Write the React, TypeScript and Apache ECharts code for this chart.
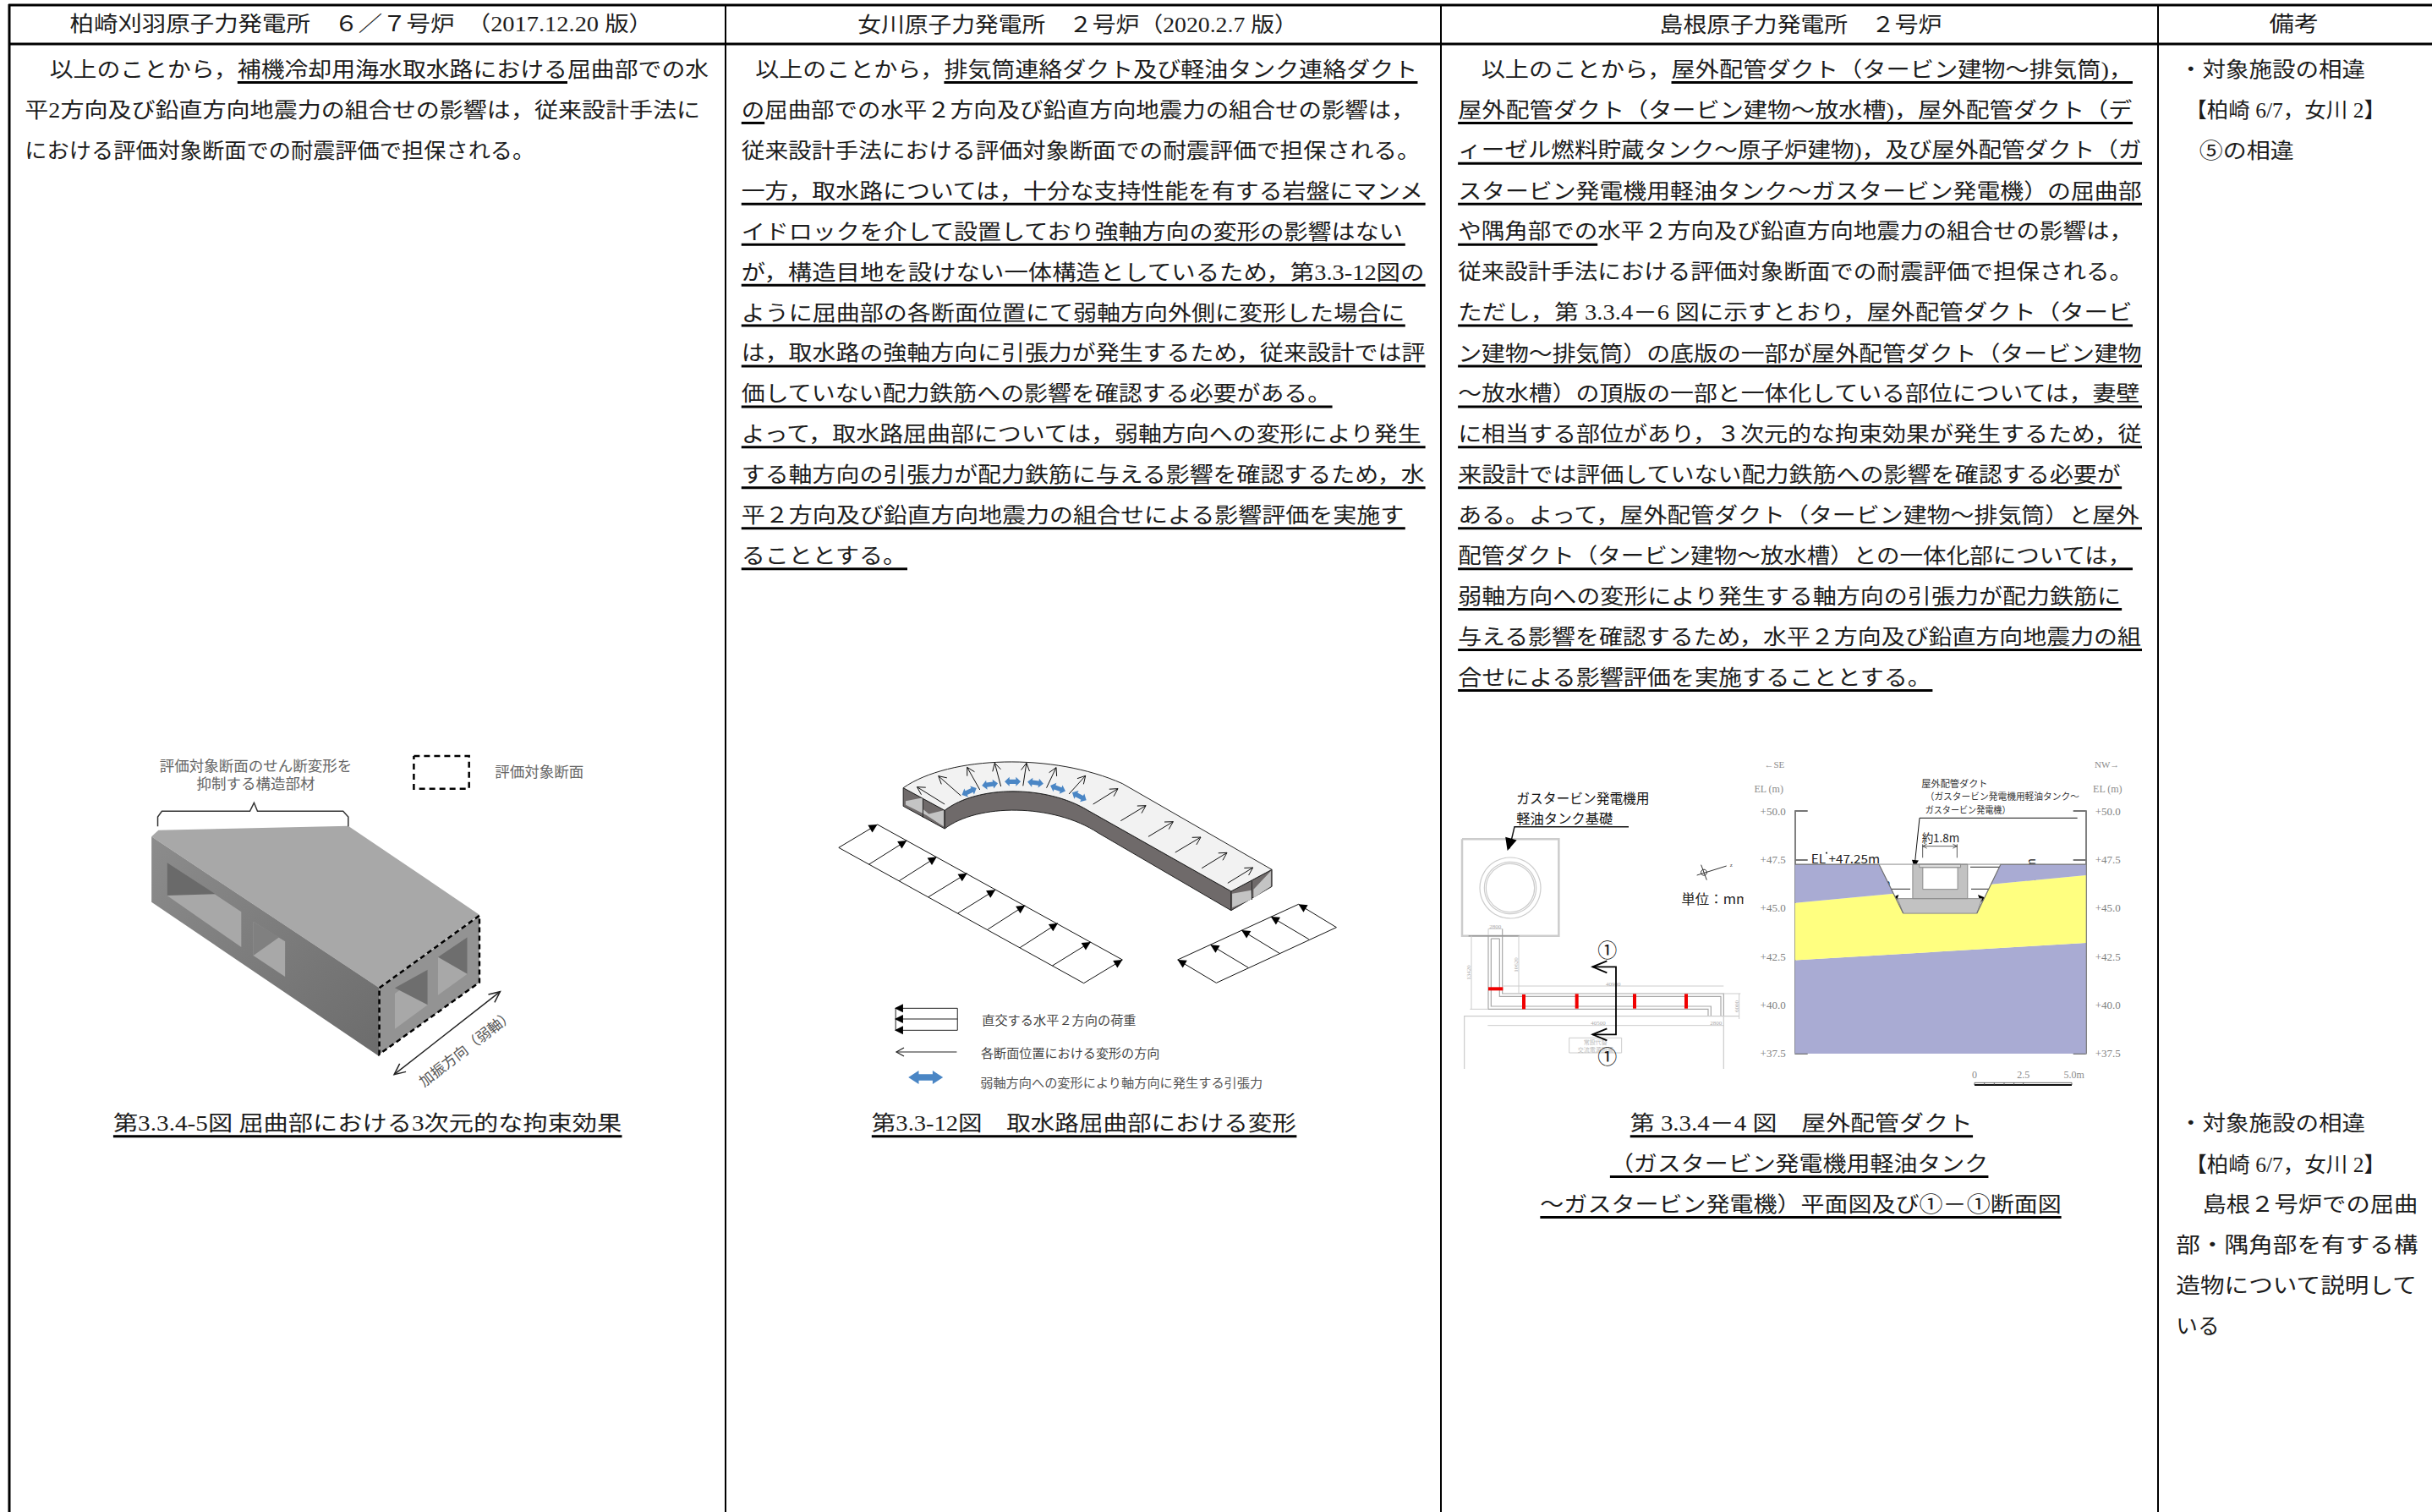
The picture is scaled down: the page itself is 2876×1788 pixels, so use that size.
import React, { useEffect, useRef } from "react";
import * as echarts from "echarts";

type P = [number, number];

// ---------- table texts ({...} marks the underlined part of a line) ----------
const headers = [
  "柏崎刈羽原子力発電所　６／７号炉　（2017.12.20 版）",
  "女川原子力発電所　２号炉（2020.2.7 版）",
  "島根原子力発電所　２号炉",
  "備考",
];
const col1Lines = [
  "以上のことから，{補機冷却用海水取水路における}屈曲部での水",
  "平2方向及び鉛直方向地震力の組合せの影響は，従来設計手法に",
  "における評価対象断面での耐震評価で担保される。",
];
const col2Lines = [
  "以上のことから，{排気筒連絡ダクト及び軽油タンク連絡ダクト}",
  "{の}屈曲部での水平２方向及び鉛直方向地震力の組合せの影響は，",
  "従来設計手法における評価対象断面での耐震評価で担保される。",
  "{一方，取水路については，十分な支持性能を有する岩盤にマンメ}",
  "{イドロックを介して設置しており強軸方向の変形の影響はない}",
  "{が，構造目地を設けない一体構造としているため，第3.3-12図の}",
  "{ように屈曲部の各断面位置にて弱軸方向外側に変形した場合に}",
  "{は，取水路の強軸方向に引張力が発生するため，従来設計では評}",
  "{価していない配力鉄筋への影響を確認する必要がある。}",
  "{よって，取水路屈曲部については，弱軸方向への変形により発生}",
  "{する軸方向の引張力が配力鉄筋に与える影響を確認するため，水}",
  "{平２方向及び鉛直方向地震力の組合せによる影響評価を実施す}",
  "{ることとする。}",
];
const col3Lines = [
  "以上のことから，{屋外配管ダクト（タービン建物～排気筒)，}",
  "{屋外配管ダクト（タービン建物～放水槽)，屋外配管ダクト（デ}",
  "{ィーゼル燃料貯蔵タンク～原子炉建物)，及び屋外配管ダクト（ガ}",
  "{スタービン発電機用軽油タンク～ガスタービン発電機）の屈曲部}",
  "{や隅角部での}水平２方向及び鉛直方向地震力の組合せの影響は，",
  "従来設計手法における評価対象断面での耐震評価で担保される。",
  "{ただし，第 3.3.4－6 図に示すとおり，屋外配管ダクト（タービ}",
  "{ン建物～排気筒）の底版の一部が屋外配管ダクト（タービン建物}",
  "{～放水槽）の頂版の一部と一体化している部位については，妻壁}",
  "{に相当する部位があり，３次元的な拘束効果が発生するため，従}",
  "{来設計では評価していない配力鉄筋への影響を確認する必要が}",
  "{ある。よって，屋外配管ダクト（タービン建物～排気筒）と屋外}",
  "{配管ダクト（タービン建物～放水槽）との一体化部については，}",
  "{弱軸方向への変形により発生する軸方向の引張力が配力鉄筋に}",
  "{与える影響を確認するため，水平２方向及び鉛直方向地震力の組}",
  "{合せによる影響評価を実施することとする。}",
];
const col4TopLines = ["・対象施設の相違", "【柏崎 6/7，女川 2】", "⑤の相違"];
const col4LowLines = [
  "・対象施設の相違",
  "【柏崎 6/7，女川 2】",
  "島根２号炉での屈曲",
  "部・隅角部を有する構",
  "造物について説明して",
  "いる",
];
const caption1 = "{第3.3.4-5図 屈曲部における3次元的な拘束効果}";
const caption2 = "{第3.3-12図　取水路屈曲部における変形}";
const caption3 = [
  "{第 3.3.4－4 図　屋外配管ダクト}",
  "{（ガスタービン発電機用軽油タンク}",
  "{～ガスタービン発電機）平面図及び①－①断面図}",
];

// ---------- cross-section figure: x in metres, y in EL (m) ----------
const elevationTicks = { min: 37.5, max: 50, step: 2.5 };
const sectionWidthM = 15;
const rockLower: P[] = [[0, 42.3], [15, 43.2], [15, 37.5], [0, 37.5]];
const backfill: P[] = [[0, 45.26], [5.1, 45.74], [5.58, 44.72], [9.38, 44.72], [10.1, 46.22], [15, 46.69], [15, 43.2], [0, 42.3]];
const rockUpperLeft: P[] = [[0, 47.25], [4.33, 47.25], [5.1, 45.74], [0, 45.26]];
const rockUpperRight: P[] = [[10.61, 47.25], [15, 47.25], [15, 46.69], [10.1, 46.22]];
const mmr: P[] = [[5.29, 45.48], [9.64, 45.48], [9.38, 44.72], [5.58, 44.72]];
const ductOuter: P[] = [[6.07, 47.25], [8.9, 47.25], [8.9, 45.48], [6.07, 45.48]];
const ductInner: P[] = [[6.59, 47.09], [8.39, 47.09], [8.39, 45.96], [6.59, 45.96]];
const ductLid: P[] = [[6.41, 47.25], [8.54, 47.25], [8.54, 47.09], [6.41, 47.09]];
const groundLeft: P[] = [[0, 47.25], [4.33, 47.25], [5.58, 44.72]];
const groundRight: P[] = [[15, 47.25], [10.61, 47.25], [9.38, 44.72]];
const groundMid: P[] = [[4.33, 47.25], [10.61, 47.25]];
const sectionPolys = [rockLower, backfill, rockUpperLeft, rockUpperRight, mmr, ductOuter, ductInner, ductLid];
const sectionFills = ["#A9ABD3", "#FFFF80", "#A9ABD3", "#A9ABD3", "#C2C2C2", "#C2C2C2", "#FFFFFF", "#DDDDDD"];
const sectionStrokes = ["none", "none", "none", "none", "#8a8a8a", "#8a8a8a", "#8a8a8a", "#8a8a8a"];

// ---------- page layout ----------
const K = 2876 / 1568;
const LH = 47.93;
const Y0 = 82.5;
const FONT = '"Liberation Serif","Noto Sans CJK JP"';
const SANS = '"Noto Sans CJK JP"';

const col1Span: P[] = [[32, 457], [16, 452], [16, 345]];
const col2Span: P[] = [[487, 914], [478, 912], [478, 916], [478, 919], [478, 906], [478, 919], [478, 906], [478, 919], [478, 859], [478, 919], [478, 919], [478, 906], [478, 585]];
const col3Span: P[] = [[955, 1375], [940, 1375], [940, 1381], [940, 1381], [940, 1375], [940, 1375], [940, 1375], [940, 1381], [940, 1381], [940, 1381], [940, 1368], [940, 1381], [940, 1375], [940, 1368], [940, 1381], [940, 1246]];
const col4TopSpan: P[] = [[1405, 1525], [1409, 1538], [1418, 1479]];
const col4LowSpan: P[] = [[1405, 1525], [1409, 1538], [1420, 1559], [1403, 1559], [1403, 1559], [1403, 1431]];
const headerSpan: P[] = [[45, 421], [553, 837], [1070, 1252], [1463, 1495]];

const measureCtx = document.createElement("canvas").getContext("2d")!;
function measure(s: string, size: number, fam: string) {
  measureCtx.font = `${size}px ${fam}`;
  return measureCtx.measureText(s).width;
}

function buildGraphics() {
  const els: any[] = [];
  const text = (s: string, x: number, y: number, size: number, o: any = {}) => {
    const fam = o.fam || SANS;
    els.push({
      type: "text",
      x,
      y,
      rotation: o.rot || 0,
      scaleX: o.sx || 1,
      silent: true,
      style: {
        text: s,
        font: `${size}px ${fam}`,
        fill: o.color || "#333",
        align: o.align || "center",
        verticalAlign: "middle",
        textAlign: o.align || "center",
        textVerticalAlign: "middle",
      },
    });
  };
  const fit = (s: string, x0: number, x1: number, y: number, size: number, o: any = {}) => {
    const fam = o.fam || SANS;
    text(s, x0, y, size, { ...o, fam, align: "left", sx: (x1 - x0) / measure(s, size, fam) });
  };
  const line = (pts: P[], color = "#000", width = 1, dash?: number[]) =>
    els.push({
      type: "polyline",
      silent: true,
      shape: { points: pts },
      style: { stroke: color, lineWidth: width, fill: "none", lineDash: dash },
    });
  const poly = (pts: P[], fill: any, stroke = "none", width = 0, dash?: number[]) =>
    els.push({
      type: "polygon",
      silent: true,
      shape: { points: pts },
      style: { fill, stroke, lineWidth: width, lineDash: dash },
    });
  const head = (from: P, tip: P, len: number, half: number, color = "#000") => {
    const a = Math.atan2(tip[1] - from[1], tip[0] - from[0]);
    const c = Math.cos(a), s = Math.sin(a);
    const bx = tip[0] - c * len, by = tip[1] - s * len;
    poly([tip, [bx - s * half, by + c * half], [bx + s * half, by - c * half]], color);
  };
  const openHead = (from: P, tip: P, len: number, half: number, color = "#000", w = 1) => {
    const a = Math.atan2(tip[1] - from[1], tip[0] - from[0]);
    const c = Math.cos(a), s = Math.sin(a);
    const bx = tip[0] - c * len, by = tip[1] - s * len;
    line([[bx - s * half, by + c * half], tip, [bx + s * half, by - c * half]], color, w);
  };
  const blue = (c: P, deg: number, len: number, thick: number) => {
    const a = (deg * Math.PI) / 180;
    const L = len / 2, h = len * 0.3, W = thick / 2, w = thick * 0.24;
    const local: P[] = [[-L, 0], [-L + h, W], [-L + h, w], [L - h, w], [L - h, W], [L, 0], [L - h, -W], [L - h, -w], [-L + h, -w], [-L + h, -W]];
    poly(
      local.map(([x, y]) => [c[0] + x * Math.cos(a) - y * Math.sin(a), c[1] + x * Math.sin(a) + y * Math.cos(a)] as P),
      "#4A86C5"
    );
  };
  const cubic = (p0: P, c0: P, c1: P, p1: P, n = 32) => {
    const out: P[] = [];
    for (let i = 0; i <= n; i++) {
      const t = i / n, u = 1 - t;
      out.push([
        u * u * u * p0[0] + 3 * u * u * t * c0[0] + 3 * u * t * t * c1[0] + t * t * t * p1[0],
        u * u * u * p0[1] + 3 * u * u * t * c0[1] + 3 * u * t * t * c1[1] + t * t * t * p1[1],
      ]);
    }
    return out;
  };

  // table rules
  const vx = [11, 858, 1704, 2552];
  vx.forEach((x, i) => line([[x, 5], [x, 1788]], "#000", i === 0 ? 3 : 2));
  line([[10, 6], [2876, 6]], "#000", 3);
  line([[10, 52], [2876, 52]], "#000", 3);

  // marked-up text line fitted to a span
  const richLine = (s: string, span: P, y: number, size = 25) => {
    const parts = s.split(/([{}])/);
    let under = false;
    const segs: { t: string; u: boolean }[] = [];
    parts.forEach((p) => {
      if (p === "{") under = true;
      else if (p === "}") under = false;
      else if (p) segs.push({ t: p, u: under });
    });
    const total = segs.reduce((a, g) => a + measure(g.t, size, FONT), 0);
    const x0 = span[0] * K, x1 = span[1] * K;
    const sx = (x1 - x0) / total;
    let x = x0;
    segs.forEach((g) => {
      const w = measure(g.t, size, FONT) * sx;
      text(g.t, x, y, size, { fam: FONT, align: "left", sx, color: "#1c1c1c" });
      if (g.u) line([[x, y + 15], [x + w, y + 15]], "#000", 3);
      x += w;
    });
  };
  headers.forEach((h, i) => richLine(h, headerSpan[i], 29));
  col1Lines.forEach((l, i) => richLine(l, col1Span[i], Y0 + i * LH));
  col2Lines.forEach((l, i) => richLine(l, col2Span[i], Y0 + i * LH));
  col3Lines.forEach((l, i) => richLine(l, col3Span[i], Y0 + i * LH));
  col4TopLines.forEach((l, i) => richLine(l, col4TopSpan[i], Y0 + i * LH));
  col4LowLines.forEach((l, i) => richLine(l, col4LowSpan[i], Y0 + (26 + i) * LH));
  richLine(caption1, [73, 401], Y0 + 26 * LH);
  richLine(caption2, [562, 836], Y0 + 26 * LH);
  richLine(caption3[0], [1051, 1272], Y0 + 26 * LH);
  richLine(caption3[1], [1038, 1282], Y0 + 27 * LH);
  richLine(caption3[2], [993, 1329], Y0 + 28 * LH);

  // ---------- figure 1: box with openings ----------
  const f1 = (x: number, y: number): P => [120 + x / 2.45, 860 + y / 3];
  const A = (pts: number[][]) => pts.map((p) => f1(p[0], p[1]));
  poly(A([[145, 388], [165, 365], [715, 350], [1095, 665], [805, 925]]), "#A8A8A8");
  poly(A([[145, 388], [805, 925], [805, 1168], [145, 620]]), {
    type: "linear", x: 0, y: 0, x2: 1, y2: 1,
    colorStops: [{ offset: 0, color: "#8C8C8C" }, { offset: 1, color: "#6C6C6C" }],
  });
  poly(A([[805, 925], [1095, 668], [1095, 905], [805, 1160]]), "#939393");
  poly(A([[190, 480], [405, 655], [405, 780], [190, 597]]), "#A8A8A8");
  poly(A([[190, 480], [330, 592], [190, 597]]), "#6A6A6A");
  poly(A([[440, 690], [532, 760], [532, 885], [440, 810]]), "#A8A8A8");
  poly(A([[440, 690], [515, 745], [440, 810]]), "#808080");
  poly(A([[850, 945], [945, 860], [945, 985], [850, 1070]]), "#A8A8A8");
  poly(A([[850, 925], [945, 860], [945, 985]]), "#6E6E6E");
  poly(A([[975, 815], [1060, 745], [1060, 875], [975, 950]]), "#A8A8A8");
  poly(A([[975, 815], [1060, 745], [1060, 875]]), "#6E6E6E");
  line(A([[805, 925], [1095, 668], [1095, 905], [805, 1160], [805, 925]]), "#000", 2.5, [6, 4]);
  const dblA = f1(848, 1232), dblB = f1(1155, 938);
  line([dblA, dblB], "#222", 1.5);
  openHead(dblB, dblA, 13, 6, "#222", 1.5);
  openHead(dblA, dblB, 13, 6, "#222", 1.5);
  const b1 = f1(1055, 1135);
  text("加振方向（弱軸）", b1[0], b1[1], 17, { rot: 0.66, color: "#555" });
  line(A([[163, 352], [163, 318], [175, 298], [430, 298], [442, 268], [452, 298], [700, 298], [715, 318], [715, 352]]), "#333", 1.5);
  const lb1 = f1(447, 133), lb2 = f1(447, 195), lb3 = f1(1140, 155);
  text("評価対象断面のせん断変形を", lb1[0], lb1[1], 17.5, { color: "#666" });
  text("抑制する構造部材", lb2[0], lb2[1], 17.5, { color: "#666" });
  text("評価対象断面", lb3[0], lb3[1], 17.5, { color: "#666", align: "left" });
  line(A([[905, 102], [1065, 102], [1065, 218], [905, 218], [905, 102]]), "#000", 2.5, [7, 5]);

  // ---------- figure 2: curved intake ----------
  const f2 = (x: number, y: number): P => [960 + x / 2.45, 860 + y / 3];
  const B = (pts: number[][]) => pts.map((p) => f2(p[0], p[1]));
  const outerCurve = cubic([265, 215], [400, 100], [700, 90], [900, 200]);
  const innerCurve = cubic([385, 295], [480, 205], [680, 205], [800, 295]);
  const lowerCurve = cubic([385, 360], [480, 270], [700, 270], [830, 375]);
  // side
  poly(B([...innerCurve, [1215, 582], [1215, 650], ...lowerCurve.slice().reverse()]), "#6F6A6A", "#222", 1);
  // end openings
  poly(B([[265, 215], [385, 295], [385, 360], [265, 280]]), "#6F6A6A", "#222", 1);
  poly(B([[272, 262], [322, 250], [322, 290], [380, 350], [332, 312], [272, 275]]), "#C4C4C4");
  poly(B([[332, 310], [382, 295], [382, 352]]), "#C4C4C4");
  line(B([[322, 250], [322, 320]]), "#222", 1);
  poly(B([[1215, 582], [1333, 505], [1333, 565], [1215, 650]]), "#6F6A6A", "#222", 1);
  poly(B([[1218, 640], [1218, 590], [1273, 578], [1275, 610]]), "#C4C4C4");
  poly(B([[1280, 575], [1330, 510], [1330, 565], [1280, 605]]), "#C4C4C4");
  line(B([[1275, 545], [1275, 612]]), "#222", 1);
  // top
  poly(B([...outerCurve, [1333, 505], [1215, 582], ...innerCurve.slice().reverse()]), "#F2F2F2", "#222", 1);
  const ductArrows = [
    [385, 273, 305, 212], [432, 243, 367, 173], [487, 222, 450, 142], [548, 210, 530, 127], [612, 208, 622, 127],
    [680, 215, 708, 143], [745, 237, 793, 172], [815, 273, 887, 218], [895, 332, 968, 278], [975, 388, 1047, 335],
    [1053, 444, 1127, 390], [1130, 500, 1203, 445], [1205, 553, 1278, 498],
  ];
  ductArrows.forEach(([a, b, c, d]) => {
    const p = f2(a, b), q = f2(c, d);
    line([p, q], "#111", 1);
    openHead(p, q, 9, 5, "#111", 1);
  });
  const blues: [number, number, number][] = [[456, 228, -25], [516, 203, -8], [582, 193, 0], [648, 197, 7], [713, 217, 20], [775, 245, 28]];
  blues.forEach(([x, y, d]) => blue(f2(x, y), d, 19, 11));
  // load strips
  const leftLow = [[78, 427], [165, 487], [253, 545], [338, 602], [423, 660], [510, 717], [603, 782], [697, 846], [788, 908]];
  const leftUp = [[190, 345], [275, 402], [362, 460], [450, 518], [532, 577], [618, 632], [713, 695], [808, 762], [900, 825]];
  line(B([leftLow[0], leftLow[8]]), "#111", 1);
  line(B([leftUp[0], leftUp[8]]), "#111", 1);
  leftLow.forEach((p, i) => {
    const a = f2(p[0], p[1]), b = f2(leftUp[i][0], leftUp[i][1]);
    line([a, b], "#111", 1);
    head(a, b, 10, 5);
  });
  const rightLow = [[1172, 907], [1265, 853], [1355, 802], [1440, 752], [1520, 710]];
  const rightUp = [[1060, 825], [1155, 772], [1245, 720], [1330, 672], [1410, 628]];
  line(B([rightLow[0], rightLow[4]]), "#111", 1);
  line(B([rightUp[0], rightUp[4]]), "#111", 1);
  rightLow.forEach((p, i) => {
    const a = f2(p[0], p[1]), b = f2(rightUp[i][0], rightUp[i][1]);
    line([a, b], "#111", 1);
    head(a, b, 10, 5);
  });
  // legend
  line(B([[243, 997], [422, 997], [422, 1075], [243, 1075], [243, 997]]), "#222", 1);
  line(B([[243, 1035], [422, 1035]]), "#222", 1);
  [997, 1035, 1075].forEach((y) => head(f2(422, y), f2(240, y), 10, 5));
  line(B([[420, 1152], [245, 1152]]), "#222", 1.2);
  openHead(f2(420, 1152), f2(245, 1152), 9, 5, "#222", 1.2);
  blue(f2(330, 1242), 0, 41, 16);
  const l1 = f2(493, 1037), l2 = f2(490, 1153), l3 = f2(488, 1258);
  fit("直交する水平２方向の荷重", l1[0], f2(940, 0)[0], l1[1], 14.5, { color: "#444" });
  fit("各断面位置における変形の方向", l2[0], f2(1008, 0)[0], l2[1], 14.5, { color: "#444" });
  fit("弱軸方向への変形により軸方向に発生する引張力", l3[0], f2(1308, 0)[0], l3[1], 14.5, { color: "#555" });

  // ---------- figure 3: plan view ----------
  const f3 = (x: number, y: number): P => [1710 + x / 3, 880 + y / 3];
  const C = (pts: number[][]) => pts.map((p) => f3(p[0], p[1]));
  const grey = "#A8A8A8", pale = "#CCCCCC";
  line(C([[57, 337], [400, 337], [400, 680], [57, 680], [57, 337]]), pale, 2.5);
  [108, 92, 86].forEach((r) => {
    const c = f3(228, 510);
    els.push({ type: "circle", silent: true, shape: { cx: c[0], cy: c[1], r: r / 3 }, style: { fill: "none", stroke: pale, lineWidth: 1.2 } });
  });
  line(C([[150, 680], [150, 940], [930, 940], [930, 965]]), grey, 1.2);
  line(C([[160, 690], [160, 930], [940, 930], [940, 965]]), grey, 1.2);
  line(C([[190, 690], [190, 895], [975, 895], [975, 965]]), grey, 1.2);
  line(C([[200, 655], [200, 885], [985, 885], [985, 965]]), grey, 1.2);
  line(C([[160, 690], [190, 690]]), grey, 1.2);
  line(C([[150, 655], [150, 680]]), pale, 1);
  line(C([[80, 680], [260, 680]]), "#999", 1.5);
  line(C([[90, 680], [90, 940]]), pale, 1);
  line(C([[258, 680], [258, 885]]), pale, 1);
  line(C([[150, 655], [200, 655]]), pale, 1);
  line(C([[200, 858], [985, 858]]), pale, 1);
  line(C([[148, 998], [985, 998]]), pale, 1);
  line(C([[1040, 885], [1040, 975]]), pale, 1);
  line(C([[985, 885], [1045, 885]]), pale, 1);
  line(C([[85, 940], [150, 940]]), pale, 1);
  line(C([[65, 1152], [65, 965], [1040, 965]]), pale, 1.2);
  line(C([[985, 965], [985, 1152]]), pale, 1.2);
  line(C([[437, 1042], [623, 1042], [623, 1095], [437, 1095], [437, 1042]]), pale, 1);
  const dims: [string, number, number, number][] = [
    ["2800", 175, 648, 0], ["13420", 82, 810, Math.PI / 2], ["10620", 250, 783, Math.PI / 2],
    ["40900", 593, 851, 0], ["40500", 540, 990, 0], ["2800", 958, 990, 0], ["6000", 1032, 930, Math.PI / 2],
  ];
  dims.forEach(([s, x, y, r]) => {
    const p = f3(x, y);
    text(s, p[0], p[1], 7, { color: "#aaa", rot: r, fam: FONT });
  });
  const bx1 = f3(530, 1055), bx2 = f3(530, 1082);
  text("常設代替", bx1[0], bx1[1], 7, { color: "#bbb" });
  text("交流電源設備", bx2[0], bx2[1], 7, { color: "#bbb" });
  const reds: number[][][] = [
    [[150, 868], [202, 868]], [[276, 888], [276, 940]], [[464, 886], [464, 938]], [[669, 886], [669, 938]], [[852, 886], [852, 938]],
  ];
  reds.forEach((r) => line(C(r), "#F00000", 4));
  line(C([[520, 790], [603, 790], [603, 1030], [520, 1030]]), "#000", 1.8);
  openHead(f3(603, 790), f3(520, 790), 17, 7, "#000", 1.8);
  openHead(f3(603, 1030), f3(520, 1030), 17, 7, "#000", 1.8);
  const c1 = f3(572, 727), c2 = f3(572, 1105);
  text("①", c1[0], c1[1], 23, { color: "#111" });
  text("①", c2[0], c2[1], 23, { color: "#111" });
  const lbA = f3(250, 190), lbB = f3(250, 260);
  fit("ガスタービン発電機用", lbA[0], f3(722, 0)[0], lbA[1], 16, { color: "#111" });
  fit("軽油タンク基礎", lbB[0], f3(592, 0)[0], lbB[1], 16, { color: "#111" });
  line(C([[648, 293], [243, 293], [225, 370]]), "#111", 1.5);
  head(f3(243, 293), f3(218, 378), 15, 7);
  const ns = f3(915, 455);
  els.push({ type: "circle", silent: true, shape: { cx: ns[0], cy: ns[1], r: 3.5 }, style: { fill: "none", stroke: "#333", lineWidth: 1 } });
  line(C([[890, 465], [995, 432]]), "#333", 1);
  line(C([[905, 428], [925, 482]]), "#333", 1);
  const zz = f3(1012, 428);
  text("z", zz[0], zz[1], 7, { color: "#444", fam: FONT });
  const un = f3(835, 548);
  fit("単位：mm", un[0], f3(1075, 0)[0], un[1], 15.5, { color: "#222" });
  poly(C([[1055, 520], [1085, 520], [1085, 575], [1055, 575]]), "#fff");

  // ---------- figure 3: cross-section annotations ----------
  const f4 = (x: number, y: number): P => [2060 + x / 3, 880 + y / 3];
  const D = (pts: number[][]) => pts.map((p) => f4(p[0], p[1]));
  const axC = "#8a8a8a";
  const se = f4(115, 72), nw = f4(1295, 72), e1 = f4(95, 158), e2 = f4(1297, 158);
  text("←SE", se[0], se[1], 11, { color: axC, fam: FONT });
  text("NW→", nw[0], nw[1], 11, { color: axC, fam: FONT });
  text("EL (m)", e1[0], e1[1], 12, { color: axC, fam: FONT });
  text("EL (m)", e2[0], e2[1], 12, { color: axC, fam: FONT });
  const n1 = f4(637, 138), n2 = f4(650, 183), n3 = f4(650, 232);
  fit("屋外配管ダクト", n1[0], f4(872, 0)[0], n1[1], 11, { color: "#333" });
  fit("（ガスタービン発電機用軽油タンク～", n2[0], f4(1197, 0)[0], n2[1], 11, { color: "#333" });
  fit("ガスタービン発電機）", n3[0], f4(953, 0)[0], n3[1], 11, { color: "#333" });
  line(D([[1190, 262], [630, 262], [613, 425]]), "#111", 1);
  head(f4(630, 262), f4(612, 438), 9, 4);
  const d18 = f4(705, 330);
  text("約1.8m", d18[0], d18[1], 13.5, { color: "#222" });
  line(D([[641, 355], [641, 403]]), "#333", 0.8);
  line(D([[763, 355], [763, 403]]), "#333", 0.8);
  line(D([[641, 362], [763, 362]]), "#333", 0.8);
  openHead(f4(763, 362), f4(641, 362), 5, 2.5, "#333", 0.8);
  openHead(f4(641, 362), f4(763, 362), 5, 2.5, "#333", 0.8);
  const el1 = f4(245, 405), el2 = f4(285, 492);
  fit("EL +47.25m", el1[0], f4(490, 0)[0], el1[1], 14, { color: "#222" });
  fit("EL +45.95m", el2[0], f4(528, 0)[0], el2[1], 14, { color: "#222" });
  [f4(300, 386), f4(340, 477)].forEach((p) =>
    els.push({ type: "circle", silent: true, shape: { cx: p[0], cy: p[1], r: 1 }, style: { fill: "#222" } })
  );
  line(D([[285, 514], [597, 514]]), "#111", 0.9);
  line(D([[813, 514], [980, 514]]), "#111", 0.9);
  line(D([[810, 436], [980, 436]]), "#111", 0.9);
  line(D([[970, 436], [970, 514]]), "#333", 0.8);
  openHead(f4(970, 514), f4(970, 436), 5, 2.5, "#333", 0.8);
  openHead(f4(970, 436), f4(970, 514), 5, 2.5, "#333", 0.8);
  const d12 = f4(1022, 472);
  text("約1.2m", d12[0], d12[1], 13.5, { color: "#222", rot: Math.PI / 2 });
  const mm = f4(703, 577);
  text("MMR", mm[0], mm[1], 13.5, { color: "#222" });
  const s1 = f4(350, 587), s2 = f4(350, 637), s3 = f4(1053, 585), s4 = f4(1053, 637);
  text("埋戻土", s1[0], s1[1], 13.5, { color: "#222" });
  text("（掘削ズリ）", s2[0], s2[1], 12, { color: "#222" });
  text("埋戻土", s3[0], s3[1], 13.5, { color: "#222" });
  text("（掘削ズリ）", s4[0], s4[1], 12, { color: "#222" });
  line(D([[265, 664], [437, 664], [545, 545]]), "#111", 1);
  head(f4(437, 664), f4(556, 534), 9, 4);
  line(D([[1128, 664], [960, 664], [848, 545]]), "#111", 1);
  head(f4(960, 664), f4(837, 534), 9, 4);
  const sb0 = f4(825, 1172), sb1 = f4(998, 1172), sb2 = f4(1178, 1172);
  text("0", sb0[0], sb0[1], 12, { color: axC, fam: FONT });
  text("2.5", sb1[0], sb1[1], 12, { color: axC, fam: FONT });
  text("5.0m", sb2[0], sb2[1], 12, { color: axC, fam: FONT });
  line(D([[825, 1201], [1170, 1201]]), "#444", 0.8);
  line(D([[825, 1209], [1170, 1209]]), "#111", 2);
  [825, 860, 895, 930, 965, 998, 1170].forEach((x) => line(D([[x, 1201], [x, 1209]]), "#444", 0.8));
  return els;
}

export default function App() {
  const ref = useRef<HTMLDivElement>(null);
  useEffect(() => {
    document.body.style.margin = "0";
    const chart = echarts.init(ref.current!, undefined, { renderer: "svg" });
    const yAxisBase = (position: string) => ({
      type: "value",
      position,
      min: elevationTicks.min,
      max: elevationTicks.max,
      interval: elevationTicks.step,
      splitLine: { show: false },
      axisLine: { show: true, onZero: false, lineStyle: { color: "#808080", width: 2 } },
      axisTick: { show: true, inside: true, length: 15, lineStyle: { color: "#757575", width: 2 } },
      axisLabel: {
        show: true,
        margin: 11,
        color: "#808080",
        fontSize: 13,
        fontFamily: "Liberation Serif",
        formatter: (v: number) => "+" + v.toFixed(1),
      },
    });
    const lineSeries = (data: P[], color: string, width: number) => ({
      type: "line",
      data,
      showSymbol: false,
      silent: true,
      lineStyle: { color, width },
      z: 5,
    });
    chart.setOption({
      animation: false,
      backgroundColor: "#ffffff",
      grid: { left: 2122.7, top: 959, width: 344, height: 286.7 },
      xAxis: {
        type: "value",
        min: 0,
        max: sectionWidthM,
        axisLabel: { show: false },
        axisTick: { show: false },
        splitLine: { show: false },
        axisLine: { show: true, onZero: false, lineStyle: { color: "#B5B5D5", width: 1 } },
      },
      yAxis: [yAxisBase("left"), yAxisBase("right")],
      series: [
        {
          type: "custom",
          silent: true,
          clip: false,
          z: 2,
          data: sectionPolys.map((_, i) => [i]),
          renderItem: (params: any, api: any) => ({
            type: "polygon",
            shape: { points: sectionPolys[params.dataIndex].map((p) => api.coord(p)) },
            style: { fill: sectionFills[params.dataIndex], stroke: sectionStrokes[params.dataIndex], lineWidth: 1 },
          }),
        },
        lineSeries(groundLeft, "#707070", 1.2),
        lineSeries(groundRight, "#707070", 1.2),
        lineSeries(groundMid, "#8a8a8a", 1),
      ],
      graphic: { elements: buildGraphics() },
    });
    return () => chart.dispose();
  }, []);
  return <div ref={ref} style={{ position: "fixed", left: 0, top: 0, width: 2876, height: 1788, background: "#fff" }} />;
}
